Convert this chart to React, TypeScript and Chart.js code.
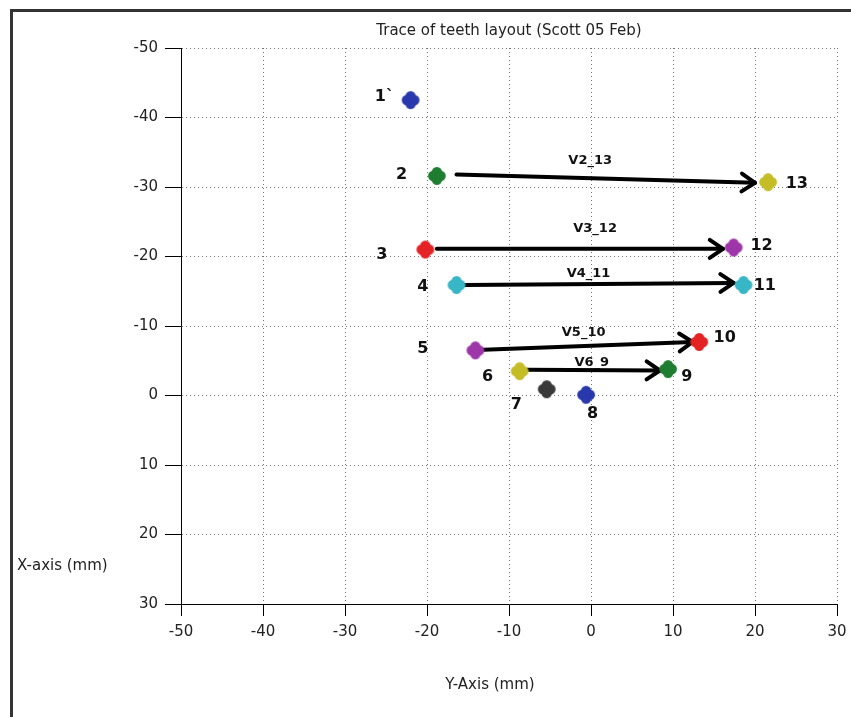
import React, { useEffect, useRef } from "react";
import { Chart, registerables } from "chart.js";

Chart.register(...registerables);

// ---- data ----
const chartTitle = "Trace of teeth layout (Scott 05 Feb)";
const xAxisTitle = "Y-Axis (mm)";
const yAxisTitle = "X-axis (mm)";

const axisMin = -50;
const axisMax = 30;
const axisStep = 10;

const pointNames = ["1`", "2", "3", "4", "5", "6", "7", "8", "9", "10", "11", "12", "13"];
const pointX = [-22.0, -18.8, -20.2, -16.4, -14.1, -8.7, -5.4, -0.6, 9.4, 13.2, 18.6, 17.4, 21.6];
const pointY = [-42.5, -31.6, -21.0, -15.9, -6.5, -3.5, -0.9, -0.1, -3.8, -7.7, -15.9, -21.3, -30.7];
const pointColors = [
  "#2a38ae", "#1f7d32", "#e42424", "#38b6c6", "#9e36aa", "#c4bd26", "#3a3a3a",
  "#2a38ae", "#1f7d32", "#e42424", "#38b6c6", "#9e36aa", "#c4bd26",
];
// anchors of the number labels (data units)
const nameX = [-25.2, -23.1, -25.5, -20.5, -20.5, -12.6, -9.1, 0.2, 11.7, 16.3, 21.2, 20.8, 25.1];
const nameY = [-43.0, -31.7, -20.3, -15.7, -6.7, -2.7, 1.3, 2.7, -2.7, -8.3, -15.8, -21.5, -30.5];

const vectorNames = ["V2_13", "V3_12", "V4_11", "V5_10", "V6_9"];
const vectorStartX = [-16.4, -18.8, -15.4, -13.1, -7.8];
const vectorStartY = [-31.8, -21.1, -15.9, -6.6, -3.7];
const vectorEndX = [20.0, 16.1, 17.4, 12.4, 8.4];
const vectorEndY = [-30.6, -21.1, -16.2, -7.7, -3.6];
const vectorLabelX = [-0.1, 0.5, -0.3, -0.9, 0.1];
const vectorLabelY = [-33.8, -24.0, -17.6, -9.1, -4.7];

const FONT = "'DejaVu Sans', 'Liberation Sans', Arial, sans-serif";

function makeMarker(color: string): HTMLCanvasElement {
  const c = document.createElement("canvas");
  c.width = 22;
  c.height = 22;
  const g = c.getContext("2d")!;
  g.fillStyle = color;
  const offs = [[0, 0], [3.7, 0], [-3.7, 0], [0, 3.7], [0, -3.7]];
  for (const [dx, dy] of offs) {
    g.beginPath();
    g.arc(11 + dx, 11 + dy, 5.2, 0, Math.PI * 2);
    g.fill();
  }
  return c;
}

const overlayPlugin = {
  id: "overlay",
  beforeDraw(chart: any) {
    const ctx = chart.ctx;
    ctx.save();
    ctx.fillStyle = "#ffffff";
    ctx.fillRect(0, 0, chart.width, chart.height);
    ctx.fillStyle = "#333333";
    ctx.fillRect(10, 9, 3, chart.height - 9);
    ctx.fillRect(10, 9, chart.width - 10, 3);
    ctx.restore();
  },
  beforeDatasetsDraw(chart: any) {
    const ctx = chart.ctx;
    const xs = chart.scales.x;
    const ys = chart.scales.y;
    ctx.save();
    ctx.strokeStyle = "#000";
    ctx.lineWidth = 4;
    ctx.lineCap = "round";
    ctx.lineJoin = "round";
    for (let i = 0; i < vectorNames.length; i++) {
      const sx = xs.getPixelForValue(vectorStartX[i]);
      const sy = ys.getPixelForValue(vectorStartY[i]);
      const ex = xs.getPixelForValue(vectorEndX[i]);
      const ey = ys.getPixelForValue(vectorEndY[i]);
      ctx.beginPath();
      ctx.moveTo(sx, sy);
      ctx.lineTo(ex, ey);
      ctx.stroke();
      const a = Math.atan2(ey - sy, ex - sx);
      const L = 16;
      const h = (34 * Math.PI) / 180;
      ctx.beginPath();
      ctx.moveTo(ex - L * Math.cos(a - h), ey - L * Math.sin(a - h));
      ctx.lineTo(ex, ey);
      ctx.lineTo(ex - L * Math.cos(a + h), ey - L * Math.sin(a + h));
      ctx.stroke();
    }
    ctx.restore();
  },
  afterDatasetsDraw(chart: any) {
    const ctx = chart.ctx;
    const xs = chart.scales.x;
    const ys = chart.scales.y;
    ctx.save();
    ctx.fillStyle = "#111";
    ctx.textAlign = "center";
    ctx.textBaseline = "middle";
    ctx.font = `bold 16px ${FONT}`;
    for (let i = 0; i < pointNames.length; i++) {
      ctx.fillText(pointNames[i], xs.getPixelForValue(nameX[i]), ys.getPixelForValue(nameY[i]));
    }
    ctx.font = `bold 13px ${FONT}`;
    for (let i = 0; i < vectorNames.length; i++) {
      ctx.fillText(vectorNames[i], xs.getPixelForValue(vectorLabelX[i]), ys.getPixelForValue(vectorLabelY[i]));
    }
    ctx.restore();
  },
  afterDraw(chart: any) {
    const ctx = chart.ctx;
    const area = chart.chartArea;
    ctx.save();
    ctx.fillStyle = "#222";
    ctx.font = `15px ${FONT}`;
    ctx.textBaseline = "middle";
    ctx.textAlign = "center";
    ctx.fillText(chartTitle, (area.left + area.right) / 2, area.top - 17);
    ctx.fillText(xAxisTitle, (area.left + area.right) / 2 - 19, area.bottom + 81);
    ctx.textAlign = "left";
    ctx.fillText(yAxisTitle, 17, area.bottom - 38);
    ctx.restore();
  },
};

export default function App() {
  const ref = useRef<HTMLCanvasElement | null>(null);

  useEffect(() => {
    document.body.style.margin = "0";
    const canvas = ref.current;
    if (!canvas) return;
    const markers = pointColors.map((c) => makeMarker(c));
    const chart = new Chart(canvas, {
      type: "scatter",
      data: {
        datasets: [
          {
            label: "teeth",
            data: pointX.map((x, i) => ({ x, y: pointY[i] })),
            pointStyle: markers as any,
            pointRadius: 8,
            pointHoverRadius: 8,
            backgroundColor: pointColors,
            borderColor: pointColors,
            showLine: false,
          },
        ],
      },
      options: {
        responsive: false,
        animation: false,
        devicePixelRatio: 1,
        events: [],
        layout: { padding: { top: 48, right: 14, left: 0, bottom: 0 } },
        plugins: {
          legend: { display: false },
          tooltip: { enabled: false },
          title: { display: false },
        },
        scales: {
          x: {
            type: "linear",
            position: "bottom",
            min: axisMin,
            max: axisMax,
            ticks: {
              stepSize: axisStep,
              color: "#222",
              font: { family: FONT, size: 15 },
              padding: 7,
              maxRotation: 0,
            },
            grid: {
              color: "rgba(0,0,0,0.55)",
              lineWidth: 1,
              tickLength: 12,
              tickColor: "#000",
              tickWidth: 1,
              tickBorderDash: [],
            },
            border: { display: true, color: "#000", width: 1, dash: [1, 3] },
            afterFit: (s: any) => {
              s.height = 113;
              s.paddingLeft = 0;
              s.paddingRight = 0;
            },
          },
          y: {
            type: "linear",
            min: axisMin,
            max: axisMax,
            reverse: true,
            ticks: {
              stepSize: axisStep,
              color: "#222",
              font: { family: FONT, size: 15 },
              padding: 7,
            },
            grid: {
              color: "rgba(0,0,0,0.55)",
              lineWidth: 1,
              tickLength: 16,
              tickColor: "#000",
              tickWidth: 1,
              tickBorderDash: [],
            },
            border: { display: true, color: "#000", width: 1, dash: [1, 3] },
            afterFit: (s: any) => {
              s.width = 181;
              s.paddingTop = 0;
              s.paddingBottom = 0;
            },
          },
        },
      } as any,
      plugins: [overlayPlugin],
    });
    return () => chart.destroy();
  }, []);

  return (
    <div style={{ position: "absolute", left: 0, top: 0, width: 851, height: 717 }}>
      <canvas ref={ref} width={851} height={717} style={{ width: 851, height: 717, display: "block" }} />
    </div>
  );
}
